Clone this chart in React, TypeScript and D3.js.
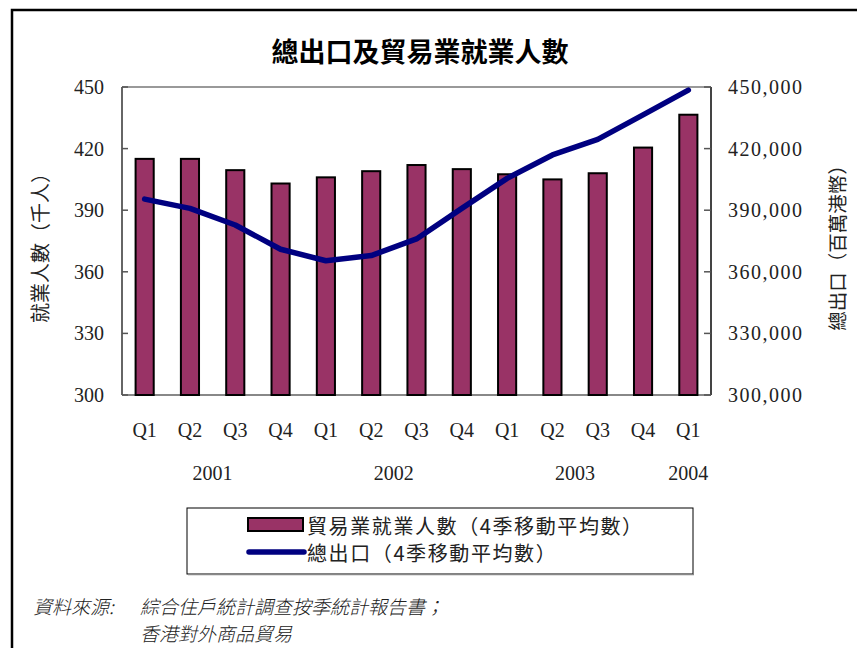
import React from "react";
import * as d3 from "d3";

const quarters = ["Q1","Q2","Q3","Q4","Q1","Q2","Q3","Q4","Q1","Q2","Q3","Q4","Q1"];
const years = [
  { label: "2001", from: 1, to: 2 },
  { label: "2002", from: 5, to: 6 },
  { label: "2003", from: 9, to: 10 },
  { label: "2004", from: 12, to: 12 },
];
const employment = [415, 415, 409.5, 403, 406, 409, 412, 410, 407.5, 405, 408, 420.5, 436.5];
const exportsTotal = [395400, 390900, 382800, 371000, 365400, 367900, 376000, 390900, 405500, 416900, 424500, 436400, 448500];
const leftTicks = [300, 330, 360, 390, 420, 450];
const rightTicks = [300000, 330000, 360000, 390000, 420000, 450000];

const title = "總出口及貿易業就業人數";
const leftTitle = "就業人數（千人）";
const rightTitle = "總出口（百萬港幣）";
const legendBar = "貿易業就業人數（4季移動平均數）";
const legendLine = "總出口（4季移動平均數）";
const sourceLabel = "資料來源:";
const sourceLines = ["綜合住戶統計調查按季統計報告書；", "香港對外商品貿易"];

const W = 857, H = 648;
const L = 122, R = 711, T = 87, B = 395;
const BAR = "#993366";
const NAVY = "#000080";
const SERIF = "'Liberation Serif', 'DejaVu Serif', serif";
const CJK = "'Noto Sans CJK TC', 'Noto Sans CJK SC', sans-serif";

export default function App() {
  const idx = quarters.map((_, i) => i);
  const x = d3.scaleBand<number>().domain(idx).range([L, R]).paddingInner(0.6).paddingOuter(0.3);
  const yL = d3.scaleLinear().domain([300, 450]).range([B, T]);
  const yR = d3.scaleLinear().domain([300000, 450000]).range([B, T]);
  const cx = (i: number) => (x(i) as number) + x.bandwidth() / 2;
  const line = d3.line<number>().x((_, i) => cx(i)).y((d) => yR(d));
  const fmt = d3.format(",");

  return (
    <svg width={W} height={H} style={{ display: "block", position: "absolute", left: 0, top: 0 }}>
      <rect x={0} y={0} width={W} height={H} fill="#fff" />
      <path d={`M12,${H + 5} L12,10 L${W + 5},10`} fill="none" stroke="#000" strokeWidth={2.5} />
      <text x={420} y={50} textAnchor="middle" dominantBaseline="central" fontFamily={CJK} fontWeight="bold" fontSize={27}>{title}</text>

      {/* plot frame */}
      <line x1={L} x2={R} y1={T} y2={T} stroke="#999" strokeWidth={2} />
      <line x1={L} x2={R} y1={B} y2={B} stroke="#888" strokeWidth={2} />
      <line x1={L} x2={L} y1={T} y2={B} stroke="#666" strokeWidth={2} />
      <line x1={R} x2={R} y1={T} y2={B} stroke="#444" strokeWidth={2} />
      {leftTicks.map((t) => (
        <g key={"l" + t}>
          <line x1={L} x2={L + 6} y1={yL(t)} y2={yL(t)} stroke="#555" strokeWidth={1.5} />
          <text x={104} y={yL(t)} textAnchor="end" dominantBaseline="central" fontFamily={SERIF} fontSize={20} fill="#222">{t}</text>
        </g>
      ))}
      {rightTicks.map((t) => (
        <g key={"r" + t}>
          <line x1={R - 7} x2={R} y1={yR(t)} y2={yR(t)} stroke="#555" strokeWidth={1.5} />
          <text x={728} y={yR(t)} dominantBaseline="central" fontFamily={SERIF} fontSize={20} letterSpacing={1.5} fill="#222">{fmt(t)}</text>
        </g>
      ))}

      {employment.map((v, i) => (
        <rect key={"b" + i} x={x(i)} y={yL(v)} width={x.bandwidth()} height={B - yL(v)} fill={BAR} stroke="#000" strokeWidth={2} />
      ))}
      <path d={line(exportsTotal) || ""} fill="none" stroke={NAVY} strokeWidth={5.5} strokeLinejoin="round" strokeLinecap="round" />

      {quarters.map((q, i) => (
        <text key={"q" + i} x={cx(i)} y={430} textAnchor="middle" dominantBaseline="central" fontFamily={SERIF} fontSize={20} fill="#222">{q}</text>
      ))}
      {years.map((yy) => (
        <text key={yy.label} x={(cx(yy.from) + cx(yy.to)) / 2} y={473} textAnchor="middle" dominantBaseline="central" fontFamily={SERIF} fontSize={20} fill="#222">{yy.label}</text>
      ))}

      <text transform={`translate(39,243) rotate(-90)`} textAnchor="middle" dominantBaseline="central" fontFamily={CJK} fontSize={20} fill="#222">{leftTitle}</text>
      <text transform={`translate(836,243) rotate(-90)`} textAnchor="middle" dominantBaseline="central" fontFamily={CJK} fontSize={19.5} fill="#222">{rightTitle}</text>

      {/* legend */}
      <rect x={187} y={508} width={506} height={66} fill="#fff" stroke="#000" strokeWidth={1} />
      <line x1={188} x2={694} y1={574.5} y2={574.5} stroke="#888" strokeWidth={1.5} />
      <rect x={248} y={518} width={55} height={13} fill={BAR} stroke="#000" strokeWidth={2} />
      <text x={307} y={525} dominantBaseline="central" fontFamily={CJK} fontSize={20} letterSpacing={1.6} fill="#222">{legendBar}</text>
      <line x1={249} x2={304} y1={552} y2={552} stroke={NAVY} strokeWidth={5.5} strokeLinecap="round" />
      <text x={307} y={552} dominantBaseline="central" fontFamily={CJK} fontSize={20} letterSpacing={1.6} fill="#222">{legendLine}</text>

      {/* source */}
      <text x={33} y={605} dominantBaseline="central" fontFamily={CJK} fontStyle="italic" fontSize={19} fontWeight={300} fill="#222">{sourceLabel}</text>
      {sourceLines.map((s, i) => (
        <text key={"s" + i} x={140} y={605 + i * 27} dominantBaseline="central" fontFamily={CJK} fontStyle="italic" fontSize={19} fontWeight={300} fill="#222">{s}</text>
      ))}
    </svg>
  );
}
